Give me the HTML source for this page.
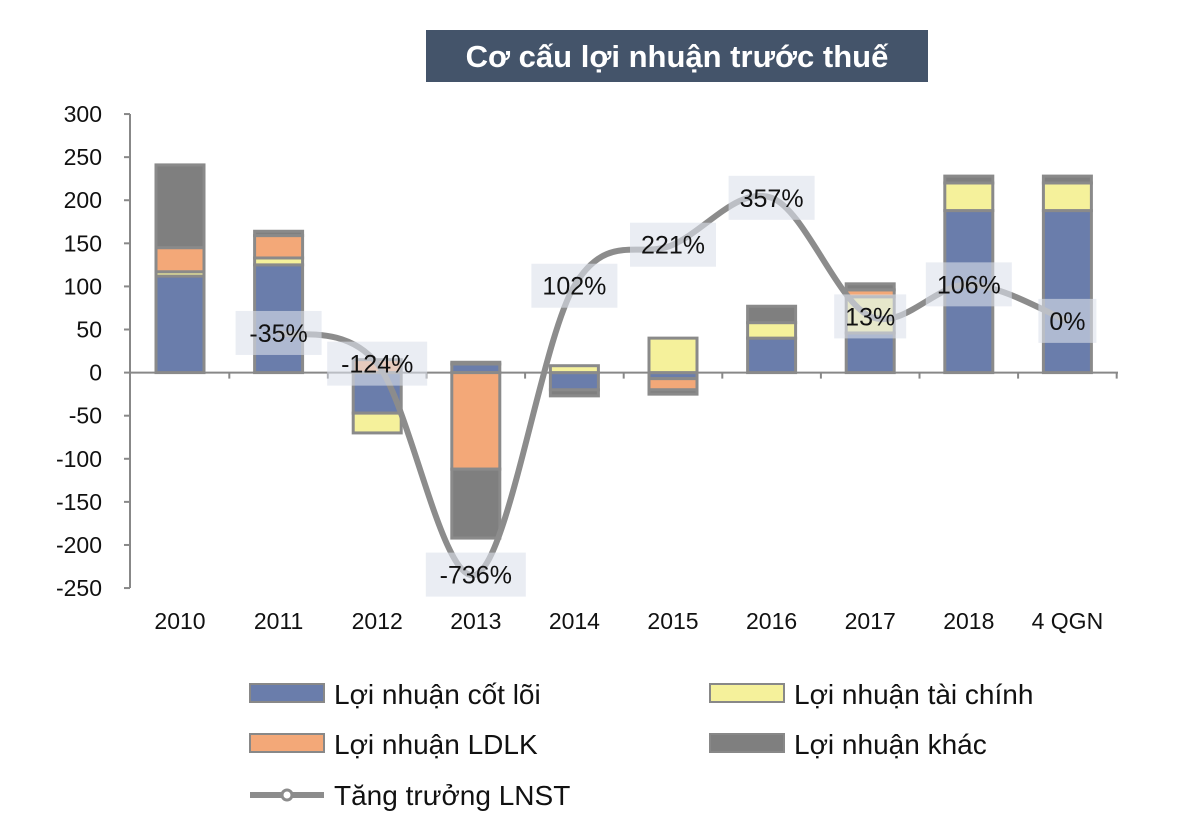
<!DOCTYPE html>
<html><head><meta charset="utf-8"><style>
body{margin:0;background:#fff;font-family:"Liberation Sans",Arial,sans-serif;}
svg text{font-family:"Liberation Sans",Arial,sans-serif;}
</style></head><body>
<svg id="c" width="1200" height="834" xmlns="http://www.w3.org/2000/svg">
<rect x="426" y="30" width="502" height="52" fill="#44546a"/>
<text x="677" y="67" text-anchor="middle" font-size="31" font-weight="bold" fill="#fff">Cơ cấu lợi nhuận trước thuế</text>
<g id="axes"></g><g id="bars"></g><g id="line"></g><g id="labels"></g>
<g>
<rect x="250" y="684" width="74" height="18" fill="#6a7dab" stroke="#888" stroke-width="2"/>
<text x="334" y="704" font-size="28" fill="#111">Lợi nhuận cốt lõi</text>
<rect x="710" y="684" width="74" height="18" fill="#f5f19b" stroke="#888" stroke-width="2"/>
<text x="794" y="704" font-size="28" fill="#111">Lợi nhuận tài chính</text>
<rect x="250" y="734" width="74" height="18" fill="#f3a878" stroke="#888" stroke-width="2"/>
<text x="334" y="754" font-size="28" fill="#111">Lợi nhuận LDLK</text>
<rect x="710" y="734" width="74" height="18" fill="#7f7f7f" stroke="#888" stroke-width="2"/>
<text x="794" y="754" font-size="28" fill="#111">Lợi nhuận khác</text>
<line x1="250" y1="795" x2="324" y2="795" stroke="#8c8c8c" stroke-width="6"/>
<circle cx="287" cy="795" r="5" fill="#fff" stroke="#8c8c8c" stroke-width="3"/>
<text x="334" y="805" font-size="28" fill="#111">Tăng trưởng LNST</text>
</g>
</svg>
<script>
const categories=["2010","2011","2012","2013","2014","2015","2016","2017","2018","4 QGN"];
const core=[112,125,-47,10,-20,-7,40,46,188,188];
const fin=[5,8,-23,2,8,40,18,42,32,32];
const ldlk=[28,26,15,-112,0,-13,0,8,0,0];
const other=[96,5,0,-80,-7,-5,19,7,8,8];
const growth=[null,-35,-124,-736,102,221,357,13,106,0];
const growthLabels=["","-35%","-124%","-736%","102%","221%","357%","13%","106%","0%"];
const yTicks=[300,250,200,150,100,50,0,-50,-100,-150,-200,-250];
const NS="http://www.w3.org/2000/svg";
const y=v=>372.6-v*(474/550);
const yg=p=>y(60+0.4*p);
const xc=i=>180+i*98.6;
function mk(t,a,p){const e=document.createElementNS(NS,t);for(const k in a)e.setAttribute(k,a[k]);p.appendChild(e);return e;}
const ax=document.getElementById('axes');
let l=mk('line',{x1:130,y1:y(300),x2:130,y2:y(-250),stroke:'#888','stroke-width':2},ax);


yTicks.forEach(v=>{const t=mk('text',{x:102,y:y(v)+8,'text-anchor':'end','font-size':23,fill:'#111'},ax);t.textContent=v;


mk('line',{x1:124,y1:y(v),x2:130,y2:y(v),stroke:'#888','stroke-width':2},ax);});
l=mk('line',{x1:130,y1:y(0),x2:1118,y2:y(0),stroke:'#888','stroke-width':2},ax);


categories.forEach((c,i)=>{mk('line',{x1:xc(i)+49.3,y1:y(0),x2:xc(i)+49.3,y2:y(0)+6,stroke:'#888','stroke-width':2},ax);
const t=mk('text',{x:xc(i),y:629,'text-anchor':'middle','font-size':23,fill:'#111'},ax);t.textContent=c;

});
const bg=document.getElementById('bars');
const series=[[core,'#6a7dab','core'],[fin,'#f5f19b','fin'],[ldlk,'#f3a878','ldlk'],[other,'#7f7f7f','other']];
categories.forEach((c,i)=>{let pos=0,neg=0;series.forEach(([arr,col,nm])=>{const v=arr[i];if(!v)return;let a,b;
if(v>0){a=pos;b=pos+v;pos=b;}else{a=neg;b=neg+v;neg=b;}
const r=mk('rect',{x:xc(i)-24,y:Math.min(y(a),y(b)),width:48,height:Math.abs(y(a)-y(b)),fill:col,stroke:'#8a8a8a','stroke-width':3},bg);

});});
const pts=[];growth.forEach((g,i)=>{if(g!==null)pts.push([xc(i),yg(g)]);});
let d='M'+pts[0][0]+','+pts[0][1];
for(let i=0;i<pts.length-1;i++){const p0=pts[Math.max(0,i-1)],p1=pts[i],p2=pts[i+1],p3=pts[Math.min(pts.length-1,i+2)];
const c1=[p1[0]+(p2[0]-p0[0])/6,p1[1]+(p2[1]-p0[1])/6],c2=[p2[0]-(p3[0]-p1[0])/6,p2[1]-(p3[1]-p1[1])/6];
d+=` C${c1[0]},${c1[1]} ${c2[0]},${c2[1]} ${p2[0]},${p2[1]}`;}
const pl=mk('path',{d:d,fill:'none',stroke:'#8c8c8c','stroke-width':6},document.getElementById('line'));


const lg=document.getElementById('labels');
growth.forEach((g,i)=>{if(g===null)return;const w=growthLabels[i].length*14+30;
const r=mk('rect',{x:xc(i)-w/2,y:yg(g)-22,width:w,height:44,fill:'rgba(220,225,235,0.6)'},lg);


const t=mk('text',{x:xc(i),y:yg(g)+9,'text-anchor':'middle','font-size':25,fill:'#111'},lg);t.textContent=growthLabels[i];

});
</script>
</body></html>
